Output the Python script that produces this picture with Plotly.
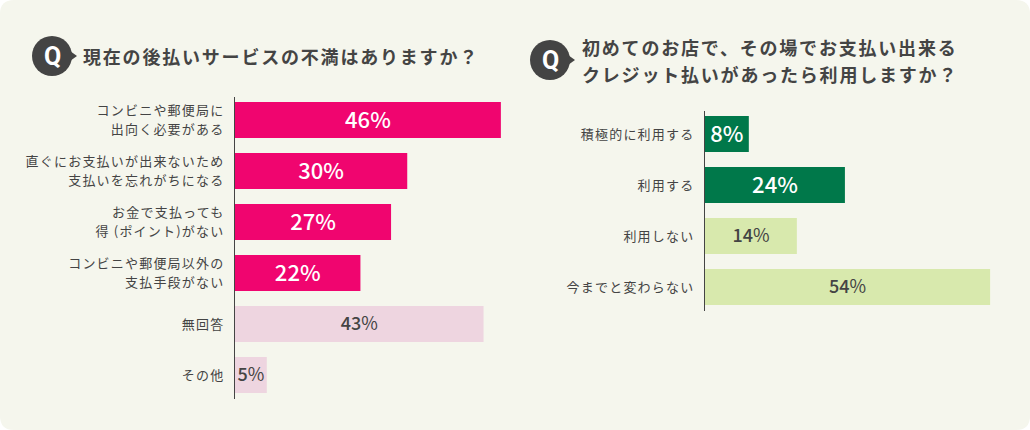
import plotly.graph_objects as go

W, H = 1030, 430
FONT = "Noto Sans CJK JP"
BG = "#f5f6ed"
INK = "#444444"

title_left = "現在の後払いサービスの不満はありますか？"
title_right = ["初めてのお店で、その場でお支払い出来る", "クレジット払いがあったら利用しますか？"]

left_categories = ["コンビニや郵便局に<br>出向く必要がある", "直ぐにお支払いが出来ないため<br>支払いを忘れがちになる",
                   "お金で支払っても<br>得 (ポイント)がない", "コンビニや郵便局以外の<br>支払手段がない", "無回答", "その他"]
left_lengths = [46, 29.8, 27, 21.7, 43, 5.5]
left_labels = ["46%", "30%", "27%", "22%", "43%", "5%"]
left_colors = ["#f0056f", "#f0056f", "#f0056f", "#f0056f", "#eed5e0", "#eed5e0"]
left_text_colors = ["#ffffff", "#ffffff", "#ffffff", "#ffffff", INK, INK]

right_categories = ["積極的に利用する", "利用する", "利用しない", "今までと変わらない"]
right_lengths = [8.3, 26.5, 17.4, 54]
right_labels = ["8%", "24%", "14%", "54%"]
right_colors = ["#00784a", "#00784a", "#d8e9ad", "#d8e9ad"]
right_text_colors = ["#ffffff", "#ffffff", INK, INK]


def rich(label, color):
    if color == INK:
        return f'{label[:-1]}<span style="font-weight:400">%</span>'
    return label


def bar(cats, vals, labels, colors, tcolors, xa, ya):
    return go.Bar(
        y=cats, x=vals, orientation="h", xaxis=xa, yaxis=ya,
        marker=dict(color=colors, line=dict(width=0)),
        text=[rich(l, c) for l, c in zip(labels, tcolors)],
        textposition="inside", insidetextanchor="middle", textangle=0,
        constraintext="none",
        textfont=dict(family=FONT, color=tcolors, weight=500,
                      size=[22 if c == "#ffffff" else 18 for c in tcolors]),
        hoverinfo="skip", showlegend=False, cliponaxis=False,
    )


fig = go.Figure()
fig.add_trace(bar(left_categories, left_lengths, left_labels, left_colors, left_text_colors, "x", "y"))
fig.add_trace(bar(right_categories, right_lengths, right_labels, right_colors, right_text_colors, "x2", "y2"))


def px_x(v):
    return v / W


def px_y(v):
    return 1 - v / H


tick_font = dict(family=FONT, size=13, color=INK)
yaxis_common = dict(type="category", showline=True, linecolor=INK, linewidth=1, showgrid=False, zeroline=False,
                    ticks="", ticklabelstandoff=7, tickfont=tick_font)
xaxis_common = dict(visible=False, showgrid=False, zeroline=False, fixedrange=True)

x0L, x1L = 235, 525
x0R, x1R = 705, 1000
fig.update_layout(
    width=W, height=H, margin=dict(l=0, r=0, t=0, b=0), autosize=False,
    paper_bgcolor="#ffffff", plot_bgcolor="rgba(0,0,0,0)",
    bargap=0.294, font=dict(family=FONT, color=INK),
    xaxis=dict(xaxis_common, domain=[px_x(x0L), px_x(x1L)], range=[0, (x1L - x0L) / 5.78]),
    yaxis=dict(yaxis_common, domain=[px_y(399), px_y(97)], range=[5.47, -0.45],
               categoryorder="array", categoryarray=left_categories, anchor="x"),
    xaxis2=dict(xaxis_common, domain=[px_x(x0R), px_x(x1R)], range=[0, (x1R - x0R) / 5.28]),
    yaxis2=dict(yaxis_common, domain=[px_y(311), px_y(111)], range=[3.47, -0.45],
                categoryorder="array", categoryarray=right_categories, anchor="x2"),
)


def badge(cx, cy):
    r = 20
    fig.add_shape(type="circle", xref="paper", yref="paper", layer="above",
                  x0=px_x(cx - r), x1=px_x(cx + r), y0=px_y(cy + r), y1=px_y(cy - r),
                  fillcolor=INK, line=dict(width=0))
    fig.add_shape(type="path", xref="paper", yref="paper", layer="above",
                  path=f"M {px_x(cx+r-2)} {px_y(cy-5)} L {px_x(cx+25)} {px_y(cy)} L {px_x(cx+r-2)} {px_y(cy+5)} Z",
                  fillcolor=INK, line=dict(width=0))
    fig.add_annotation(xref="paper", yref="paper", x=px_x(cx), y=px_y(cy), text="Q", showarrow=False,
                       font=dict(family="Roboto", size=25, color="#ffffff", weight=700),
                       xanchor="center", yanchor="middle")


# panel background with rounded corners
fig.add_shape(type="path", xref="paper", yref="paper", layer="below",
              path=(f"M {14/W} 0 L {1-14/W} 0 Q 1 0 1 {14/H} L 1 {1-14/H} Q 1 1 {1-14/W} 1 "
                    f"L {14/W} 1 Q 0 1 0 {1-14/H} L 0 {14/H} Q 0 0 {14/W} 0 Z"),
              fillcolor=BG, line=dict(width=0))

badge(52, 56)
badge(550, 60)


def title(x, y, text):
    fig.add_annotation(xref="paper", yref="paper", x=px_x(x), y=px_y(y), text=text, showarrow=False,
                       xanchor="left", yanchor="middle", font=dict(family=FONT, size=18, color=INK, weight=700))


title(81, 55.5, title_left)
title(580, 46.5, title_right[0])
title(580, 74.5, title_right[1])

post = """
document.body.style.margin='0';document.body.style.overflow='hidden';
document.querySelectorAll('.annotation-text').forEach(function(t){
  var n=t.textContent.length;
  if(n>2){
    t.style.letterSpacing='1.8px';
    t.setAttribute('transform','translate('+(n*0.9)+',0) '+(t.getAttribute('transform')||''));
  }
});
document.querySelectorAll('.ytick text, .y2tick text').forEach(function(t){
  t.style.letterSpacing='1.2px';
  var ls=t.querySelectorAll('tspan.line');
  if(ls.length==2){ls[0].setAttribute('dy','-1.5px');ls[1].setAttribute('dy','18.4px');}
});
document.querySelectorAll('.bartext').forEach(function(t){
  var tr=t.getAttribute('transform')||'';
  t.setAttribute('transform','translate(0,-2) '+tr);
});
"""
fig.write_html("out.html", config={"displayModeBar": False}, post_script=post)
